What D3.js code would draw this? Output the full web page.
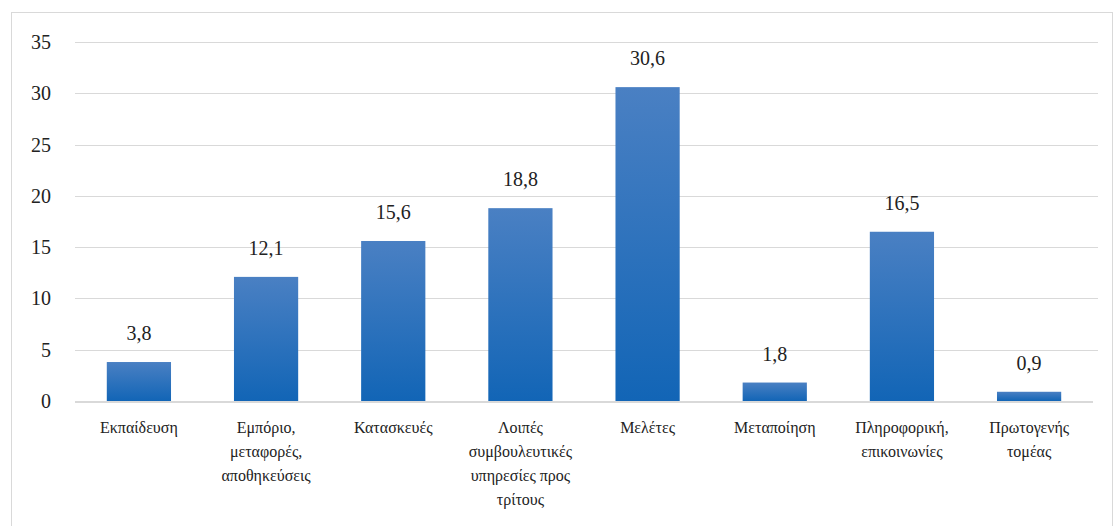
<!DOCTYPE html>
<html>
<head>
<meta charset="utf-8">
<script src="https://cdn.jsdelivr.net/npm/d3@7"></script>
</head>
<body style="margin:0">
<script>
// data
const categories = ['Εκπαίδευση', 'Εμπόριο, μεταφορές, αποθηκεύσεις', 'Κατασκευές',
  'Λοιπές συμβουλευτικές υπηρεσίες προς τρίτους', 'Μελέτες', 'Μεταποίηση',
  'Πληροφορική, επικοινωνίες', 'Πρωτογενής τομέας']
const labelLines = [
  ['Εκπαίδευση'],
  ['Εμπόριο,', 'μεταφορές,', 'αποθηκεύσεις'],
  ['Κατασκευές'],
  ['Λοιπές', 'συμβουλευτικές', 'υπηρεσίες προς', 'τρίτους'],
  ['Μελέτες'],
  ['Μεταποίηση'],
  ['Πληροφορική,', 'επικοινωνίες'],
  ['Πρωτογενής', 'τομέας']
]
const values = [3.8, 12.1, 15.6, 18.8, 30.6, 1.8, 16.5, 0.9]
const yTicks = [0, 5, 10, 15, 20, 25, 30, 35]

const width = 1113, height = 526
const margin = {left: 75, top: 42}
const serif = "'Liberation Serif', 'Tinos', 'FreeSerif', 'DejaVu Serif', serif"

const svg = d3.select('body').append('svg')
  .attr('width', width)
  .attr('height', height)

// chart frame
svg.append('rect')
  .attr('x', 11.5).attr('y', 12.5)
  .attr('width', width - 12).attr('height', height)
  .attr('fill', 'none')
  .attr('stroke', '#d9d9d9')

const defs = svg.append('defs')
const grad = defs.append('linearGradient')
  .attr('id', 'barGrad')
  .attr('x1', 0).attr('y1', 0).attr('x2', 0).attr('y2', 1)
grad.append('stop').attr('offset', '0%').attr('stop-color', '#4a80c3')
grad.append('stop').attr('offset', '100%').attr('stop-color', '#1265b6')

const x = d3.scaleBand()
  .domain(categories)
  .range([margin.left, 1093])
  .paddingInner(0.495)
  .paddingOuter(0.25)

const y = d3.scaleLinear()
  .domain([0, 35])
  .range([401, margin.top])

// gridlines
svg.selectAll('line.grid')
  .data(yTicks.filter(d => d > 0))
  .enter()
  .append('line')
  .attr('class', 'grid')
  .attr('x1', margin.left).attr('x2', 1098)
  .attr('y1', d => Math.round(y(d)) + 0.5)
  .attr('y2', d => Math.round(y(d)) + 0.5)
  .attr('stroke', '#d9d9d9')
  .attr('stroke-width', 1)

// y tick labels
svg.selectAll('text.ytick')
  .data(yTicks)
  .enter()
  .append('text')
  .attr('class', 'ytick')
  .attr('x', 51)
  .attr('y', d => y(d))
  .attr('dy', '0.35em')
  .attr('text-anchor', 'end')
  .style('font-family', serif)
  .style('font-size', '20px')
  .style('fill', '#222')
  .text(d => d)

// bars
svg.selectAll('rect.bar')
  .data(values)
  .enter()
  .append('rect')
  .attr('class', 'bar')
  .attr('x', (d, i) => x(categories[i]))
  .attr('y', d => y(d))
  .attr('width', x.bandwidth())
  .attr('height', d => y(0) - y(d))
  .attr('fill', 'url(#barGrad)')

// base axis
svg.append('line')
  .attr('x1', margin.left).attr('x2', 1093)
  .attr('y1', y(0) + 1).attr('y2', y(0) + 1)
  .attr('stroke', '#d9d9d9')
  .attr('stroke-width', 2)

// value labels
svg.selectAll('text.val')
  .data(values)
  .enter()
  .append('text')
  .attr('class', 'val')
  .attr('x', (d, i) => x(categories[i]) + x.bandwidth() / 2)
  .attr('y', d => y(d) - 22)
  .attr('text-anchor', 'middle')
  .style('font-family', serif)
  .style('font-size', '20px')
  .style('fill', '#222')
  .text(d => d.toFixed(1).replace('.', ','))

// category labels
const cat = svg.selectAll('text.cat')
  .data(labelLines)
  .enter()
  .append('text')
  .attr('class', 'cat')
  .attr('text-anchor', 'middle')
  .style('font-family', serif)
  .style('font-size', '16px')
  .style('fill', '#222')
  .attr('transform', (d, i) => `translate(${x(categories[i]) + x.bandwidth() / 2}, 433)`)

cat.selectAll('tspan')
  .data(d => d)
  .enter()
  .append('tspan')
  .attr('x', 0)
  .attr('y', (d, i) => i * 24)
  .text(d => d)
</script>
</body>
</html>
